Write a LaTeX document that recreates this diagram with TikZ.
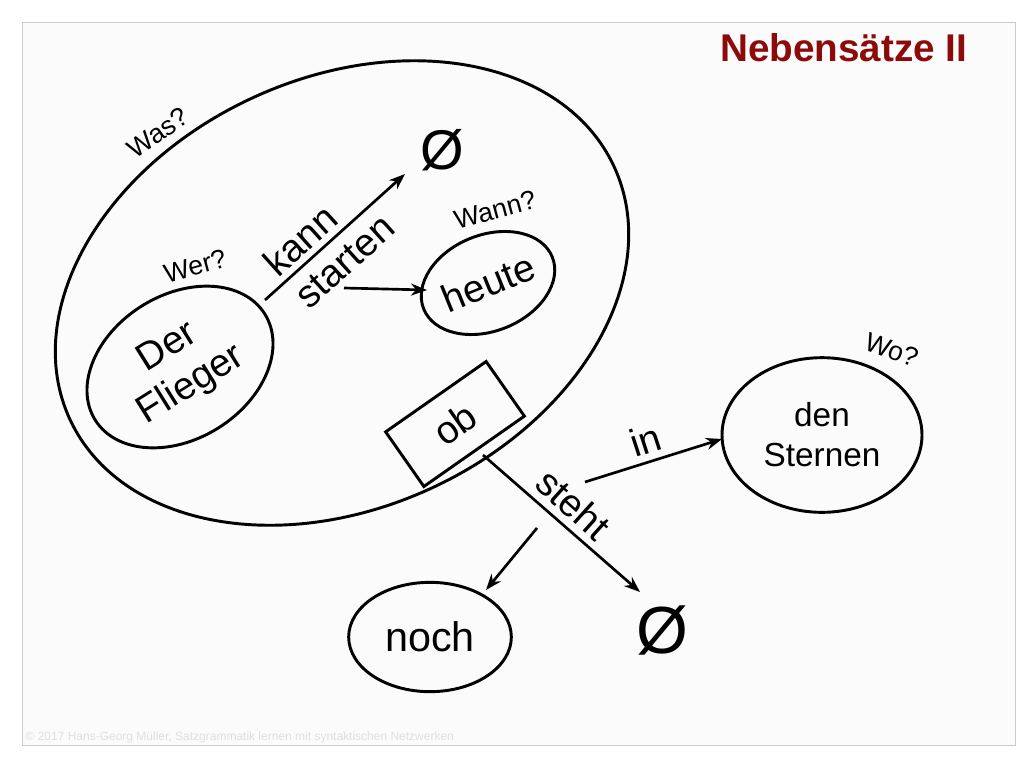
\documentclass[tikz,border=0pt]{standalone}
\usepackage{fontspec}
\setmainfont{Liberation Sans}
\usetikzlibrary{shapes.geometric,arrows.meta}
\definecolor{titlered}{RGB}{140,10,10}
\tikzset{
 blob/.style={ellipse,draw,line width=2.2pt,inner sep=0pt},
 link/.style={line width=2pt,-{Stealth[length=12pt,width=9pt]}},
 ask/.style={font=\fontsize{20}{23}\selectfont},
 word/.style={font=\fontsize{29}{33}\selectfont,align=center}
}
\begin{document}
\begin{tikzpicture}[x=0.75pt,y=-0.75pt]
 \useasboundingbox (0,0) rectangle (1024,768);
 \draw[gray!40,fill=gray!3] (22,22) rectangle (1015,745);
 \node[anchor=east,font=\bfseries\fontsize{29}{32}\selectfont,text=titlered] (title) at (972,48) {Nebensätze II};
 \node[anchor=south west,text=gray!25,font=\fontsize{9}{10}\selectfont,inner sep=1pt] (copy) at (24,745) {© 2017 Hans-Georg Müller, Satzgrammatik lernen mit syntaktischen Netzwerken};
 % ellipses
 \node[blob,rotate=25,minimum width=450pt,minimum height=322pt] (was) at (342,293) {};
 \node[blob,rotate=32,minimum width=150pt,minimum height=108pt,word] (flieger) at (180,367) {Der\\Flieger};
 \node[blob,rotate=22,minimum width=104pt,minimum height=72pt,word] (heute) at (488,283) {heute};
 \node[draw,line width=2.2pt,rotate=35,minimum width=92pt,minimum height=50pt,word] (ob) at (455,424) {ob};
 \node[blob,minimum width=150pt,minimum height=116pt,word,font=\fontsize{25}{30}\selectfont] (sternen) at (822,435) {den\\Sternen};
 \node[blob,minimum width=122pt,minimum height=82pt,word,font=\fontsize{31}{33}\selectfont] (noch) at (430,637) {noch};
 \node[font=\fontsize{42}{42}\selectfont] (leer1) at (442,150) {Ø};
 \node[font=\fontsize{50}{50}\selectfont] (leer2) at (662,630) {Ø};
 % questions
 \node[ask,rotate=35] (qwas) at (158,133) {Was?};
 \node[ask,rotate=15] (qwer) at (195,266) {Wer?};
 \node[ask,rotate=15] (qwann) at (495,210) {Wann?};
 \node[ask,rotate=-20] (qwo) at (892,350) {Wo?};
 % verbs
 \node[word,rotate=42] (kann) at (300,240) {kann};
 \node[word,rotate=42] (starten) at (345,262) {starten};
 \node[word,rotate=-42] (steht) at (574,504) {steht};
 \node[word,rotate=18] (in) at (645,440) {in};
 % connectors
 \coordinate (v1) at (265,300);
 \coordinate (v1e) at (405,174);
 \coordinate (v2) at (344,288);
 \coordinate (v2e) at (427,290);
 \coordinate (s1) at (483,455);
 \coordinate (s1e) at (640,592);
 \coordinate (s2) at (585,482);
 \coordinate (s2e) at (722,439);
 \coordinate (s3) at (537,528);
 \coordinate (s3e) at (486,590);
 \draw[link] (v1) -- (v1e);
 \draw[link] (v2) -- (v2e);
 \draw[link] (s1) -- (s1e);
 \draw[link] (s2) -- (s2e);
 \draw[link] (s3) -- (s3e);
\end{tikzpicture}
\end{document}
